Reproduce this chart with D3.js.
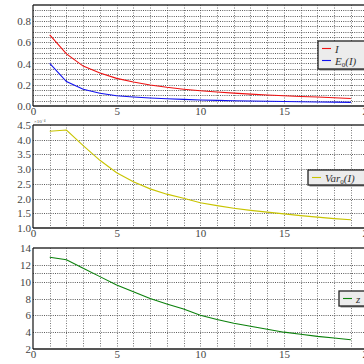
<!DOCTYPE html>
<html>
<head>
<meta charset="utf-8">
<script src="https://cdn.jsdelivr.net/npm/d3@7"></script>
<style>
  body { margin: 0; background: #fff; }
  svg { display: block; }
  .tick text { font-family: "Liberation Serif", "DejaVu Serif", serif; fill: #444; }
  .leg { font-family: "Liberation Serif", serif; font-style: italic; fill: #333; }
</style>
</head>
<body>
<script>
// data
const steps = [1, 2, 3, 4, 5, 6, 7, 8, 9, 10, 11, 12, 13, 14, 15, 16, 17, 18, 19];
const seriesI = [0.67, 0.49, 0.375, 0.31, 0.26, 0.225, 0.198, 0.176, 0.158, 0.143, 0.131, 0.121, 0.112, 0.104, 0.097, 0.09, 0.084, 0.078, 0.07];
const seriesE0 = [0.40, 0.23, 0.157, 0.12, 0.097, 0.085, 0.075, 0.068, 0.062, 0.057, 0.053, 0.05, 0.047, 0.044, 0.042, 0.04, 0.038, 0.036, 0.034];
const seriesVar0 = [4.29, 4.33, 3.80, 3.30, 2.88, 2.57, 2.33, 2.15, 2.01, 1.86, 1.76, 1.67, 1.60, 1.54, 1.48, 1.42, 1.37, 1.32, 1.28]; // x 1e-4
const seriesZ = [12.9, 12.6, 11.6, 10.6, 9.6, 8.8, 8.0, 7.35, 6.75, 6.0, 5.5, 5.05, 4.7, 4.35, 4.0, 3.75, 3.5, 3.3, 3.1];
const xTicks = [0, 5, 10, 15, 20];

const W = 364, H = 364;
const svg = d3.select("body").append("svg").attr("width", W).attr("height", H);

const x = d3.scaleLinear().domain([0, 20]).range([33, 367.6]);

const panels = [
    {top: 5, bottom: 106, domain: [0, 0.95], major: [0, 0.2, 0.4, 0.6, 0.8], grid: d3.range(0, 0.951, 0.05), fmt: d3.format(".1f"),
     series: [{v: seriesI, c: "#ee1111", name: "I"}, {v: seriesE0, c: "#1111ee", name: "E0"}],
     legend: {x: 318, y: 41, h: 28}},
    {top: 125, bottom: 228, domain: [1, 4.5], major: d3.range(1, 4.51, 0.5), grid: d3.range(1, 4.51, 0.5), fmt: d3.format(".1f"),
     series: [{v: seriesVar0, c: "#c8c400", name: "Var0"}], offset: "\u00d710\u207b\u2074",
     legend: {x: 308, y: 170, h: 15}},
    {top: 248, bottom: 349, domain: [2, 14], major: d3.range(2, 14.1, 2), grid: [4, 6, 8, 10, 11, 12], fmt: d3.format("d"),
     series: [{v: seriesZ, c: "#0a800a", name: "z"}],
     legend: {x: 339, y: 291, h: 15}}
];

panels.forEach(p => {
    const y = d3.scaleLinear().domain(p.domain).range([p.bottom, p.top]);
    const g = svg.append("g");

    // vertical grid every unit
    g.append("g").selectAll("line")
        .data(d3.range(1, 20))
        .enter().append("line")
        .attr("x1", d => Math.round(x(d)) + 0.5).attr("x2", d => Math.round(x(d)) + 0.5)
        .attr("y1", p.top).attr("y2", p.bottom)
        .attr("stroke", "#555").attr("stroke-width", 0.8).attr("stroke-dasharray", "1,1.5");

    // horizontal grid
    g.append("g").selectAll("line")
        .data(p.grid.filter(v => v > p.domain[0] + 1e-9 && v < p.domain[1] - 1e-9))
        .enter().append("line")
        .attr("x1", x(0)).attr("x2", W)
        .attr("y1", d => Math.round(y(d)) + 0.5).attr("y2", d => Math.round(y(d)) + 0.5)
        .attr("stroke", "#333").attr("stroke-width", 0.8).attr("stroke-dasharray", "1,1.2");

    // spines
    g.append("line").attr("x1", x(0)).attr("x2", W).attr("y1", p.top).attr("y2", p.top)
        .attr("stroke", "#333").attr("stroke-width", 1.6);
    g.append("line").attr("x1", x(0)).attr("x2", W).attr("y1", p.bottom).attr("y2", p.bottom)
        .attr("stroke", "#555").attr("stroke-width", 2);
    g.append("line").attr("x1", x(0)).attr("x2", x(0)).attr("y1", p.top).attr("y2", p.bottom)
        .attr("stroke", "#111").attr("stroke-width", 1.2);

    // y axis labels
    const yAxis = d3.axisLeft(y).tickValues(p.major).tickFormat(p.fmt).tickSize(0).tickPadding(2);
    const ya = g.append("g").attr("transform", `translate(${x(0)},0)`).call(yAxis);
    ya.select(".domain").remove();
    ya.selectAll("text").style("font-size", "11px");

    // x axis labels
    const xAxis = d3.axisBottom(x).tickValues(xTicks).tickFormat(d3.format("d")).tickSize(0).tickPadding(1);
    const xa = g.append("g").attr("transform", `translate(0,${p.bottom})`).call(xAxis);
    xa.select(".domain").remove();
    xa.selectAll("text").style("font-size", "11px");

    if (p.offset) {
        g.append("text").attr("x", x(0) + 1).attr("y", p.top - 2)
            .attr("font-family", "Liberation Serif, serif").attr("font-size", 5).attr("fill", "#555")
            .text(p.offset);
    }

    // series
    const line = d3.line().x((d, i) => x(steps[i])).y(d => y(d));
    p.series.forEach(s => {
        g.append("path").datum(s.v)
            .attr("d", line)
            .attr("fill", "none").attr("stroke", s.c).attr("stroke-width", 1.1);
    });

    // legend
    const L = p.legend;
    const lg = g.append("g");
    lg.append("rect").attr("x", L.x + 1.5).attr("y", L.y + 1.5).attr("width", W).attr("height", L.h)
        .attr("fill", "#888");
    lg.append("rect").attr("x", L.x).attr("y", L.y).attr("width", W).attr("height", L.h)
        .attr("fill", "#ececec").attr("stroke", "#222").attr("stroke-width", 1.3);
    p.series.forEach((s, i) => {
        const cy = L.y + 7.5 + i * 12;
        lg.append("line").attr("x1", L.x + 4).attr("x2", L.x + 13).attr("y1", cy).attr("y2", cy)
            .attr("stroke", s.c).attr("stroke-width", 1.1);
        const t = lg.append("text").attr("class", "leg").attr("x", L.x + 17).attr("y", cy + 4)
            .style("font-size", "11px");
        if (s.name === "E0") {
            t.append("tspan").text("E");
            t.append("tspan").attr("font-size", 7).attr("dy", 2).attr("font-style", "normal").text("0");
            t.append("tspan").attr("dy", -2).text("(I)");
        } else if (s.name === "Var0") {
            t.append("tspan").text("Var");
            t.append("tspan").attr("font-size", 7).attr("dy", 2).attr("font-style", "normal").text("0");
            t.append("tspan").attr("dy", -2).text("(I)");
        } else {
            t.text(s.name);
        }
    });
});
</script>
</body>
</html>
